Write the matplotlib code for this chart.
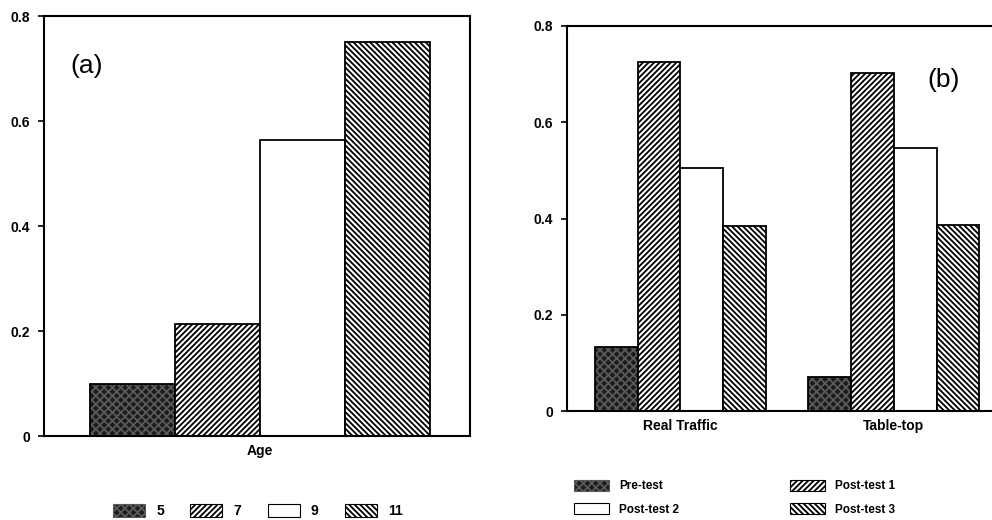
import matplotlib
matplotlib.use("Agg")
from matplotlib import pyplot as plt
import numpy as np

plt.rcParams["font.family"] = ["Liberation Sans", "DejaVu Sans"]
plt.rcParams["font.weight"] = "bold"
plt.rcParams["hatch.linewidth"] = 1.3

# panel (a): proportion by age
ages = ["5", "7", "9", "11"]
age_values = [0.099, 0.213, 0.563, 0.75]

# panel (b): test condition by test phase
conditions = ["Real Traffic", "Table-top"]
phases = ["Pre-test", "Post-test 1", "Post-test 2", "Post-test 3"]
pre_test = [0.133, 0.07]
post_test_1 = [0.725, 0.703]
post_test_2 = [0.505, 0.546]
post_test_3 = [0.385, 0.386]

# (facecolor, hatch, hatch colour)
styles = [
    ("#1c1c1c", "xxxx", "#5a5a5a"),
    ("white", "//////", "black"),
    ("white", "", "black"),
    ("white", "\\\\\\\\\\\\", "black"),
]


def hatched_bar(ax, x, h, width, style, label=None):
    fc, hatch, hc = style
    ax.bar(x, h, width, color=fc, hatch=hatch, edgecolor=hc, linewidth=0)
    ax.bar(x, h, width, fill=False, edgecolor="black", linewidth=1.3)
    # proxy for the legend
    return plt.Rectangle((0, 0), 1, 1, facecolor=fc, hatch=hatch,
                         edgecolor=hc, linewidth=0.8, label=label)


def style_axes(ax):
    for s in ax.spines.values():
        s.set_linewidth(1.5)
    ax.tick_params(axis="y", direction="out", length=4, width=1.2,
                   labelsize=10, pad=6)
    ax.tick_params(axis="x", length=0, labelsize=10, pad=6)
    ax.set_ylim(0, 0.8)
    ax.set_yticks([0, 0.2, 0.4, 0.6, 0.8])
    ax.set_yticklabels(["0", "0.2", "0.4", "0.6", "0.8"], fontweight="bold")


fig = plt.figure(figsize=(9.92, 5.2), dpi=100)

# ---- (a)
ax = fig.add_axes([0.0444, 0.1615, 0.4294, 0.8077])
handles_a = []
for i, (a, v) in enumerate(zip(ages, age_values)):
    handles_a.append(hatched_bar(ax, i, v, 1.0, styles[i], label=a))
ax.set_xlim(-1.04, 3.97)
style_axes(ax)
ax.set_xticks([1.5])
ax.set_xticklabels(["Age"], fontweight="bold")
ax.text(0.1, 0.88, "(a)", transform=ax.transAxes, fontsize=19,
        fontweight="normal", ha="center", va="center")

fig.legend(handles=handles_a, loc="center", bbox_to_anchor=(0.26, 0.017),
           ncol=4, frameon=False, fontsize=10, handlelength=2.3,
           handleheight=1.0, handletextpad=0.8, columnspacing=1.9)

# ---- (b)
ax = fig.add_axes([0.5716, 0.2096, 0.4435, 0.7404])
x = np.arange(len(conditions))
w = 0.2
series = [pre_test, post_test_1, post_test_2, post_test_3]
handles_b = []
for j, (name, vals) in enumerate(zip(phases, series)):
    handles_b.append(hatched_bar(ax, x + (j - 1.5) * w, vals, w, styles[j],
                                 label=name))
ax.set_xlim(-0.53, 1.53)
style_axes(ax)
ax.set_xticks(x)
ax.set_xticklabels(conditions, fontweight="bold")
ax.text(0.855, 0.86, "(b)", transform=ax.transAxes, fontsize=19,
        fontweight="normal", ha="center", va="center")

order = [0, 2, 1, 3]
fig.legend(handles=[handles_b[k] for k in order], loc="upper left",
           bbox_to_anchor=(0.568, 0.098), ncol=2, frameon=False, fontsize=8.5,
           handlelength=3.0, handleheight=1.1, handletextpad=0.8,
           columnspacing=9.4, labelspacing=0.9)

fig.savefig("out.png", dpi=100)
